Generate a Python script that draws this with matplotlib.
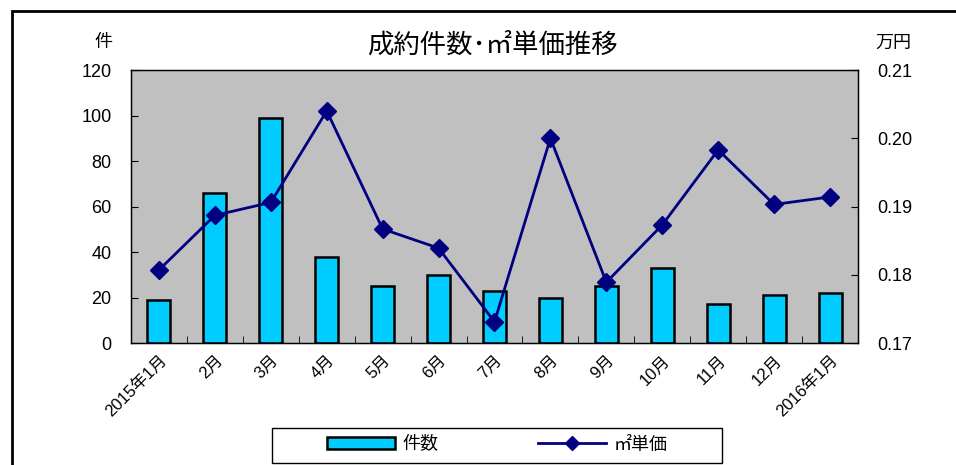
import matplotlib
matplotlib.use('Agg')
import matplotlib.pyplot as plt
import matplotlib.patches as mpatches
import numpy as np

plt.rcParams['font.family'] = ['Liberation Sans', 'Noto Sans CJK JP', 'DejaVu Sans']

months = ['2015年1月', '2月', '3月', '4月', '5月', '6月', '7月', '8月',
          '9月', '10月', '11月', '12月', '2016年1月']
counts = [19, 66, 99, 38, 25, 30, 23, 20, 25, 33, 17, 21, 22]
unit_price = [0.1807, 0.1887, 0.1906, 0.2040, 0.1867, 0.1839, 0.1731,
              0.2000, 0.1789, 0.1873, 0.1983, 0.1903, 0.1914]

fig = plt.figure(figsize=(9.56, 4.65), dpi=100)

# outer frame (clipped on right and bottom like the source)
frame = mpatches.Rectangle((12 / 956, -0.1), 1.2, 1.1 - 11 / 465, transform=fig.transFigure,
                           fill=False, edgecolor='black', linewidth=2, clip_on=False)
fig.patches.append(frame)

ax = fig.add_axes([131 / 956, 1 - 343 / 465, 727 / 956, 273 / 465])
ax.set_facecolor('#C0C0C0')
x = np.arange(len(months))
ax.bar(x, counts, width=0.41, color='#00CCFF', edgecolor='black', linewidth=1.8, zorder=2)
ax.set_xlim(-0.5, len(months) - 0.5)
ax.set_ylim(0, 120)
ax.set_yticks(range(0, 121, 20))
ax.set_xticks(x)
ax.set_xticklabels(months, rotation=45, ha='right', rotation_mode='anchor', fontsize=12)
ax.tick_params(axis='x', length=0, pad=7)
ax.set_xticks(np.arange(0.5, len(months) - 1, 1), minor=True)
ax.tick_params(axis='x', which='minor', direction='in', length=5)
ax.tick_params(axis='y', direction='in', length=5, labelsize=13, pad=14)
for s in ax.spines.values():
    s.set_linewidth(1)

ax2 = ax.twinx()
ax2.plot(x, unit_price, color='#000080', linewidth=2, marker='D', markersize=9, zorder=3)
ax2.set_ylim(0.17, 0.21)
ax2.set_yticks([0.17, 0.18, 0.19, 0.20, 0.21])
ax2.set_yticklabels(['0.17', '0.18', '0.19', '0.20', '0.21'])
ax2.tick_params(axis='y', direction='in', length=5, labelsize=13, pad=14)

fig.text(492 / 956, 1 - 45 / 465, '成約件数･㎡単価推移', ha='center', va='center', fontsize=19)
fig.text(103 / 956, 1 - 42 / 465, '件', ha='center', va='center', fontsize=13)
fig.text(893 / 956, 1 - 43 / 465, '万円', ha='center', va='center', fontsize=13)

# legend box
legbox = mpatches.Rectangle((272 / 956, 2 / 465), 450 / 956, 35 / 465, transform=fig.transFigure,
                            fill=False, edgecolor='black', linewidth=1)
fig.patches.append(legbox)
h_bar = mpatches.Patch(facecolor='#00CCFF', edgecolor='black', linewidth=1.8)
h_line = plt.Line2D([], [], color='#000080', linewidth=2, marker='D', markersize=7)
fig.legend([h_bar, h_line], ['件数', '㎡単価'], ncol=2, frameon=False,
           loc='center', bbox_to_anchor=(497 / 956, 20 / 465), fontsize=13,
           handlelength=3.8, handleheight=0.6, columnspacing=5.5, handletextpad=0.4)

fig.savefig('out.png', dpi=100)
